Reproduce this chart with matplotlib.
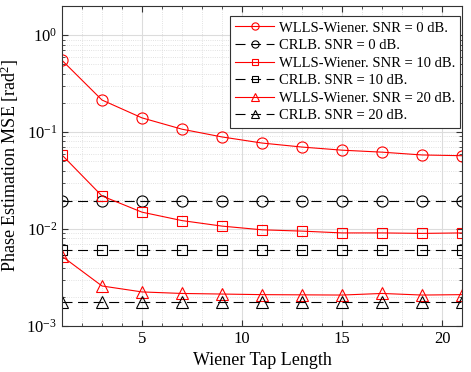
import matplotlib

matplotlib.use("Agg")
import matplotlib.pyplot as plt
from matplotlib.ticker import MultipleLocator, LogLocator, NullFormatter

plt.rcParams["font.family"] = ["Liberation Serif", "DejaVu Serif"]
plt.rcParams["mathtext.fontset"] = "custom"
plt.rcParams["mathtext.rm"] = "Liberation Serif"
plt.rcParams["mathtext.it"] = "Liberation Serif:italic"

taps = [1, 3, 5, 7, 9, 11, 13, 15, 17, 19, 21]

wlls_0 = [0.55, 0.214, 0.14, 0.107, 0.089, 0.077, 0.070, 0.065, 0.062, 0.058, 0.057]
wlls_10 = [0.058, 0.0219, 0.0149, 0.0122, 0.0107, 0.0098, 0.0095, 0.0091, 0.0091, 0.0090, 0.0091]
wlls_20 = [0.00523, 0.00258, 0.00224, 0.00216, 0.00213, 0.0021, 0.00209, 0.00208, 0.00216, 0.00208, 0.0021]
crlb_0 = [0.0193] * len(taps)
crlb_10 = [0.0060] * len(taps)
crlb_20 = [0.00177] * len(taps)

fig = plt.figure(figsize=(4.71, 3.72), dpi=100)
ax = fig.add_axes([0.1316, 0.124, 0.8494, 0.860])

red = "#ff0000"
series = (
    (wlls_0, crlb_0, "o", 8, "0"),
    (wlls_10, crlb_10, "s", 6.5, "10"),
    (wlls_20, crlb_20, "^", 8, "20"),
)
for w, c, mk, ms, snr in series:
    ax.plot(taps, w, "-", color=red, lw=0.8, marker=mk, ms=ms,
            mfc="none", mec=red, mew=0.8, label=f"WLLS-Wiener. SNR = {snr} dB.")
    ax.plot(taps, c, color="black", lw=0.8, ls=(0, (9, 5)), marker=mk,
            ms=ms, mfc="none", mec="black", mew=0.8,
            label=f"CRLB. SNR = {snr} dB.")

ax.set_yscale("log")
ax.set_xlim(1, 21)
ax.set_ylim(1e-3, 2)
ax.xaxis.set_major_locator(MultipleLocator(5))
ax.xaxis.set_minor_locator(MultipleLocator(1))
ax.yaxis.set_major_locator(LogLocator(base=10, numticks=10))
ax.yaxis.set_minor_locator(LogLocator(base=10, subs=range(2, 10), numticks=20))
ax.yaxis.set_minor_formatter(NullFormatter())

ax.grid(True, which="major", color="#dcdcdc", lw=0.8, ls="-")
ax.grid(True, which="minor", color="#d8d8d8", lw=0.6, ls=":")
ax.set_axisbelow(True)
ax.tick_params(which="both", direction="in", top=True, right=True, labelsize=12,
               color="#333333")
ax.tick_params(which="major", length=4)
ax.tick_params(which="minor", length=2)
for sp in ax.spines.values():
    sp.set_color("#333333")
    sp.set_linewidth(0.8)

ax.set_xlabel("Wiener Tap Length", fontsize=13)
ax.set_ylabel("Phase Estimation MSE [rad$^2$]", fontsize=13)

leg = ax.legend(loc="upper right", fontsize=10.5, fancybox=False, framealpha=1,
                edgecolor="#333333", handlelength=2.7, borderpad=0.35,
                labelspacing=0.3, handletextpad=0.3, markerscale=0.65,
                borderaxespad=0, bbox_to_anchor=(0.995, 0.968))
leg.get_frame().set_linewidth(0.8)

fig.savefig("out.png", dpi=100)
